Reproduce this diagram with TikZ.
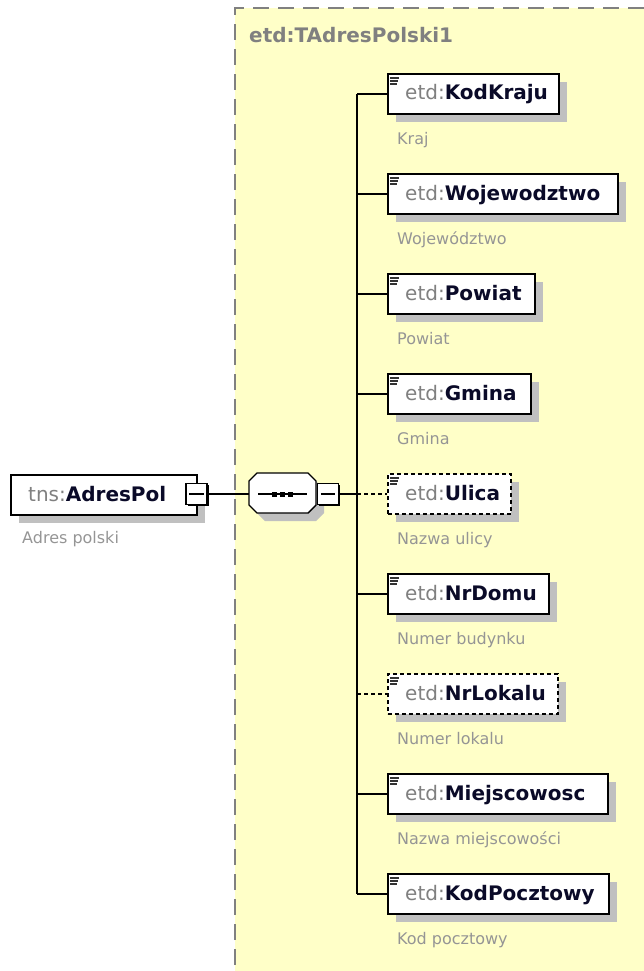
\documentclass[tikz,border=0pt]{standalone}
\usepackage{fontspec}
\setmainfont{DejaVu Sans}
\usetikzlibrary{shadows}
\definecolor{bgyel}{HTML}{FFFFC8}
\definecolor{bordergray}{HTML}{808080}
\definecolor{shadowgray}{HTML}{C0C0C0}
\definecolor{etdgray}{HTML}{808080}
\definecolor{descgray}{HTML}{959595}
\definecolor{namedark}{HTML}{0A0A28}
\tikzset{
  boxshadow/.style={drop shadow={shadow xshift=8pt,shadow yshift=-8pt,fill=shadowgray,opacity=1}},
  childbox/.style={draw=black,line width=1.6pt,fill=white,rectangle,inner sep=0pt,minimum height=40pt,boxshadow},
  minusbox/.style={draw=black,line width=1.4pt,fill=white,rectangle,inner sep=0pt,minimum width=21pt,minimum height=21pt,
     drop shadow={shadow xshift=1.5pt,shadow yshift=-1.5pt,fill=black,opacity=1}},
  conn/.style={draw=black,line width=1.4pt},
  optdash/.style={dash pattern=on 4pt off 3pt},
  nametext/.style={inner sep=0pt,text=namedark,font=\fontsize{20}{24}\selectfont},
  desctext/.style={inner sep=0pt,text=descgray,font=\fontsize{16}{19}\selectfont},
  titletext/.style={inner sep=0pt,text=etdgray,font=\fontsize{20}{24}\selectfont\bfseries},
  iconline/.style={draw=black!80,line width=1.2pt}
}
\begin{document}
\begin{tikzpicture}[x=1pt,y=-1pt]
\useasboundingbox (0,0) rectangle (644,971);
% complex type background
\fill[bgyel] (235,8) rectangle (660,990);
\draw[bordergray,line width=1.5pt,dash pattern=on 16pt off 9pt] (235,990) -- (235,8) -- (660,8);
\node[titletext,anchor=base west] (title) at (249,43) {etd:TAdresPolski1};

% root element
\node[childbox,minimum width=186pt,anchor=north west] (root) at (10,474) {};
\node[nametext,anchor=base west] (rootname) at (28,501) {\textcolor{etdgray}{tns:}\textbf{AdresPol}};
\node[desctext,anchor=base west] (rootdesc) at (22,543) {Adres polski};
\node[minusbox] (rminus) at (196.5,494) {};
\draw[line width=1.3pt] ([xshift=4pt]rminus.west) -- ([xshift=-4pt]rminus.east);

% sequence compositor (octagon)
\coordinate (seqW) at (249,494);
\coordinate (seqE) at (316,494);
\fill[shadowgray] (257+8,481) -- (308+8,481) -- (316+8,489) -- (316+8,513+8-8) -- (308+8,521) -- (257+8,521) -- (249+8,513) -- (249+8,489) -- cycle;
\filldraw[fill=white,draw=black,line width=1.4pt] (257,473) -- (308,473) -- (316,481) -- (316,505) -- (308,513) -- (257,513) -- (249,505) -- (249,481) -- cycle;
\draw[line width=1.3pt] (258,494) -- (307,494);
\foreach \sx in {274,282,290}{\fill[black] (\sx-2.5,491.5) rectangle (\sx+2.5,496.5);}
\node[minusbox] (sminus) at (328,494) {};
\draw[line width=1.3pt] ([xshift=4pt]sminus.west) -- ([xshift=-4pt]sminus.east);
\draw[conn] (rminus.east) -- (seqW);

% trunk coordinates
\foreach \i in {0,...,8}{\pgfmathsetmacro\yc{94+100*\i}\coordinate (t\i) at (357,\yc);}
\draw[conn] (t0) -- (t8);
\draw[conn] (sminus.east) -- (t4);

% children
\foreach \i/\nm/\w/\desc/\sty in {
  0/KodKraju/171/Kraj/solid,
  1/Wojewodztwo/230/Województwo/solid,
  2/Powiat/147/Powiat/solid,
  3/Gmina/143/Gmina/solid,
  4/Ulica/123/Nazwa ulicy/optdash,
  5/NrDomu/161/Numer budynku/solid,
  6/NrLokalu/170/Numer lokalu/optdash,
  7/Miejscowosc/220/Nazwa miejscowości/solid,
  8/KodPocztowy/221/Kod pocztowy/solid}{
  \pgfmathsetmacro\yc{94+100*\i}
  \node[childbox,\sty,minimum width=\w pt,anchor=west] (c\i) at (387,\yc) {};
  \draw[iconline] (390,\yc-16) -- (399,\yc-16);
  \draw[iconline] (390,\yc-13) -- (398,\yc-13);
  \draw[iconline] (390,\yc-10) -- (397,\yc-10);
  \node[nametext,anchor=base west] (n\i) at (405,\yc+6) {\textcolor{etdgray}{etd:}\textbf{\nm}};
  \node[desctext,anchor=base west] (d\i) at (397,\yc+50) {\desc};
  \draw[conn,\sty] (t\i) -- (c\i.west);
}
\end{tikzpicture}
\end{document}
